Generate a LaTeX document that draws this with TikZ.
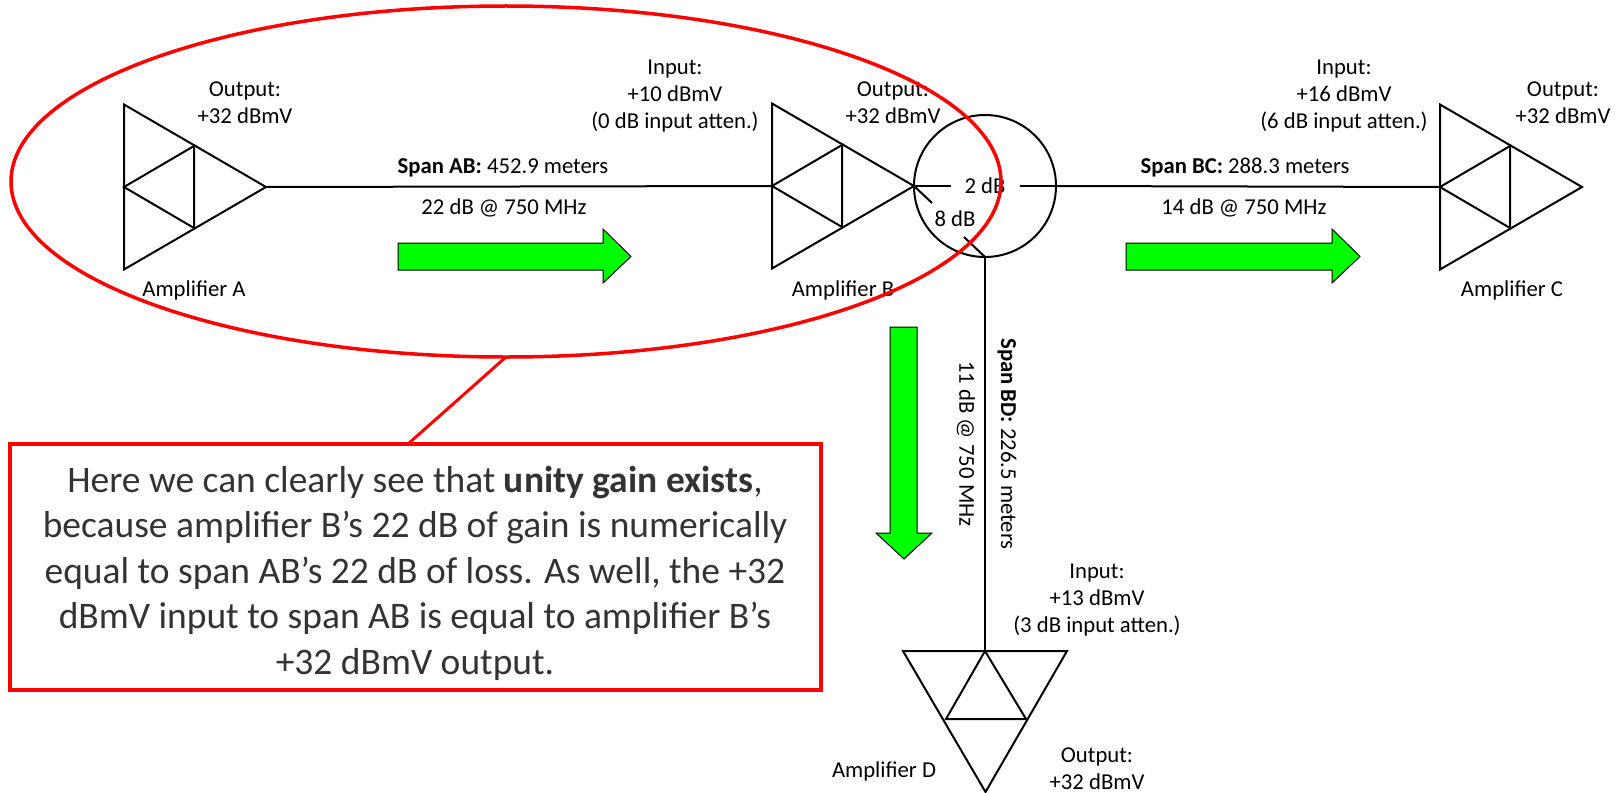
\documentclass[tikz,border=0pt]{standalone}
\usepackage{fontspec}
\setmainfont{Carlito}
\usetikzlibrary{shapes.geometric}
\definecolor{callgray}{HTML}{333333}
\tikzset{
  x=1pt,y=-1pt,
  wire/.style={draw=black,line width=2pt,line join=miter},
  lbl/.style={font=\fontsize{22.7}{27}\selectfont,align=center,inner sep=0pt,text=black},
  redline/.style={draw=red,line width=3.5pt},
  flow/.style={draw=black,line width=1pt,fill=green},
}
\newcommand{\ampright}[3]{% name, left x, y-centre
  \coordinate (#1in) at (#2,#3);
  \coordinate (#1out) at (#2+142,#3);
  \coordinate (#1t) at (#2,#3-82.5);
  \coordinate (#1b) at (#2,#3+82.5);
  \coordinate (#1u) at (#2+70,#3-41);
  \coordinate (#1d) at (#2+70,#3+41);
  \draw[wire] (#1t) -- (#1out) -- (#1b) -- cycle;
  \draw[wire] (#1in) -- (#1u) -- (#1d) -- cycle;
}
\begin{document}
\begin{tikzpicture}
\useasboundingbox (0,0) rectangle (1616,792);
\ampright{A}{124}{187}
\ampright{B}{772}{186}
\ampright{C}{1440}{187}
% amplifier D
\coordinate (Din) at (985,651);
\coordinate (Dout) at (985.5,792);
\coordinate (Dl) at (903,651);
\coordinate (Dr) at (1067,651);
\coordinate (Du) at (946,719);
\coordinate (Dv) at (1026,719);
\draw[wire] (Dl) -- (Dr) -- (Dout) -- cycle;
\draw[wire] (Din) -- (Du) -- (Dv) -- cycle;
% splitter
\node[circle,draw=black,line width=2pt,minimum size=142pt,inner sep=0pt,outer sep=0pt] (split) at (985,186) {};
\node[lbl] (twodb) at (985,186) {2 dB};
\node[lbl] (eightdb) at (955,219) {8 dB};
\coordinate (s2a) at (951,186);
\coordinate (s2b) at (1020,186);
\coordinate (s8a) at (932,203);
\coordinate (s8b) at (964,237);
\draw[wire] (Aout) -- (Bin);
\draw[wire] (Bout) -- (s2a);
\draw[wire] (s2b) -- (split.east);
\draw[wire] (split.east) -- (Cin);
\draw[wire] (Bout) -- (s8a);
\draw[wire] (s8b) -- (split.south);
\draw[wire] (split.south) -- (Din);
% flow arrows
\draw[flow] (398,243) -- (603,243) -- (603,229) -- (631,256.5) -- (603,283) -- (603,270) -- (398,270) -- cycle;
\draw[flow] (1126,243) -- (1332,243) -- (1332,229) -- (1360,256.5) -- (1332,283) -- (1332,270) -- (1126,270) -- cycle;
\draw[flow] (890,327) -- (917,327) -- (917,533) -- (932,533) -- (904,559) -- (876,533) -- (890,533) -- cycle;
% labels
\node[lbl] (outA) at (245,103) {Output:\\+32 dBmV};
\node[lbl] (inB) at (675,96) {Input:\\+10 dBmV\\(0 dB input atten.)};
\node[lbl] (outB) at (893,103) {Output:\\+32 dBmV};
\node[lbl] (spanAB) at (503,168) {\textbf{Span AB:} 452.9 meters};
\node[lbl] (lossAB) at (504,208) {22 dB @ 750 MHz};
\node[lbl] (nameA) at (194,290) {Amplifier A};
\node[lbl] (nameB) at (843,290) {Amplifier B};
\node[lbl] (inC) at (1344,96) {Input:\\+16 dBmV\\(6 dB input atten.)};
\node[lbl] (outC) at (1563,103) {Output:\\+32 dBmV};
\node[lbl] (spanBC) at (1245,168) {\textbf{Span BC:} 288.3 meters};
\node[lbl] (lossBC) at (1244,208) {14 dB @ 750 MHz};
\node[lbl] (nameC) at (1512,290) {Amplifier C};
\node[lbl,rotate=-90] (spanBD) at (1007,444) {\textbf{Span BD:} 226.5 meters};
\node[lbl,rotate=-90] (lossBD) at (966,444) {11 dB @ 750 MHz};
\node[lbl] (inD) at (1097,600) {Input:\\+13 dBmV\\(3 dB input atten.)};
\node[lbl] (outD) at (1097,769) {Output:\\+32 dBmV};
\node[lbl] (nameD) at (884,771) {Amplifier D};
% callout
\node[draw=red,line width=3.5pt,ellipse,minimum width=990pt,minimum height=351pt,inner sep=0pt,outer sep=0pt] (oval) at (506,181.5) {};
\node[redline,fill=white,minimum width=811pt,minimum height=246pt,inner sep=0pt,outer sep=0pt] (note) at (415.5,567) {};
\node[align=center,inner sep=0pt,text=callgray,font=\fontsize{37.5}{45.5}\selectfont] (notetext) at (415,573)
  {Here we can clearly see that \textbf{unity gain exists},\\
   because amplifier B’s 22 dB of gain is numerically\\
   equal to span AB’s 22 dB of loss. As well, the +32\\
   dBmV input to span AB is equal to amplifier B’s\\
   +32 dBmV output.};
\coordinate (noteTop) at (408,444);
\draw[redline,line width=3pt] (oval.south) -- (noteTop);
\end{tikzpicture}
\end{document}
